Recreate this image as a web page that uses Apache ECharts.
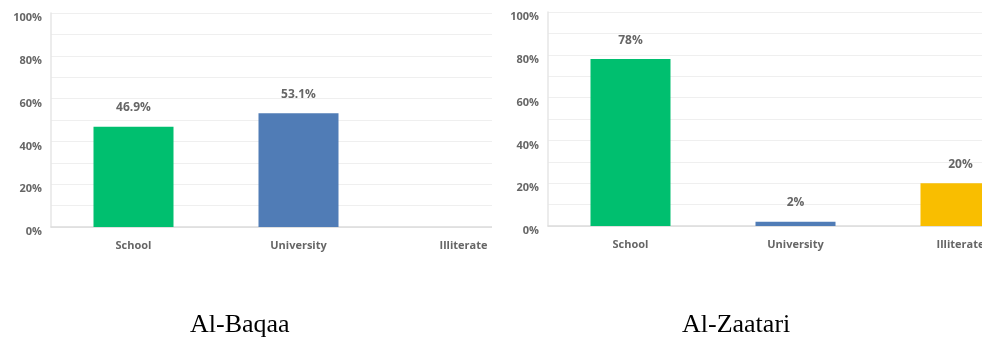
<!DOCTYPE html>
<html>
<head>
<meta charset="utf-8">
<script src="https://cdn.jsdelivr.net/npm/echarts@6/dist/echarts.min.js"></script>
<style>
html,body{margin:0;padding:0;background:#fff;width:982px;height:341px;overflow:hidden;}
.wrap{position:absolute;top:0;height:341px;overflow:hidden;}
.chart{position:absolute;left:0;top:0;width:600px;height:341px;}
</style>
</head>
<body>
<div class="wrap" style="left:0;width:492px;"><div id="c1" class="chart"></div></div>
<div class="wrap" style="left:492px;width:490px;"><div id="c2" class="chart"></div></div>
<script>
const categories = ['School', 'University', 'Illiterate'];
const baqaaValues = [46.9, 53.1, 0];
const baqaaLabels = ['46.9%', '53.1%', ''];
const zaatariValues = [78, 2, 20];
const zaatariLabels = ['78%', '2%', '20%'];
const barColors = ['#00bf6f', '#507cb6', '#f9be00'];
const yTicks = [0, 20, 40, 60, 80, 100];
const titles = ['Al-Baqaa', 'Al-Zaatari'];

function makeOption(values, labels, title, gridLeft, gridTop) {
  return {
    animation: false,
    grid: { left: gridLeft, top: gridTop, width: 495, height: 214 },
    xAxis: {
      type: 'category',
      data: categories,
      axisLine: { lineStyle: { color: '#dcdcdc', width: 1.5 } },
      axisTick: { show: false },
      axisLabel: { color: '#666', fontSize: 11, fontWeight: 'bold', fontFamily: 'Open Sans', margin: 13 }
    },
    yAxis: {
      type: 'value',
      min: 0, max: 100, interval: 10,
      axisLine: { show: true, lineStyle: { color: '#e6e6e6', width: 1.5 } },
      axisTick: { show: false },
      splitLine: { lineStyle: { color: '#efefef', width: 1 } },
      axisLabel: {
        color: '#666', fontSize: 11, fontWeight: 'bold', fontFamily: 'Open Sans', margin: 9,
        verticalAlign: 'top', lineHeight: 10,
        formatter: v => yTicks.includes(v) ? v + '%' : ''
      }
    },
    series: [{
      type: 'bar',
      barWidth: 80,
      data: values.map((v, i) => ({ value: v, itemStyle: { color: barColors[i] } })),
      label: {
        show: true, position: 'top', distance: 13,
        color: '#666', fontSize: 12, fontWeight: 'bold', fontFamily: 'Open Sans',
        formatter: p => labels[p.dataIndex]
      }
    }],
    graphic: [{
      type: 'text', left: 190, top: 312,
      style: { text: title, font: '26px "Liberation Serif"', fill: '#000' }
    }]
  };
}

echarts.init(document.getElementById('c1')).setOption(makeOption(baqaaValues, baqaaLabels, titles[0], 51, 13));
echarts.init(document.getElementById('c2')).setOption(makeOption(zaatariValues, zaatariLabels, titles[1], 56, 12));
</script>
</body>
</html>
